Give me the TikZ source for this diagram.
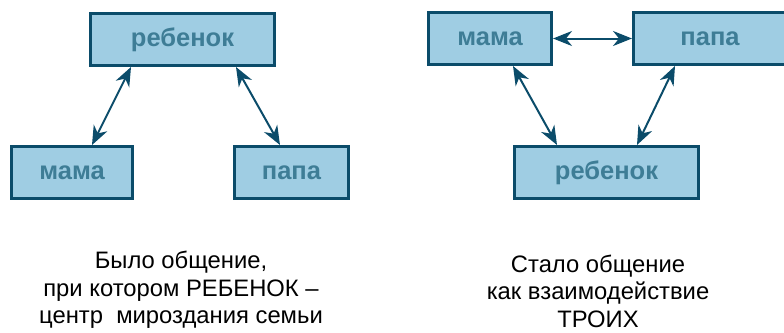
\documentclass[tikz,border=0pt]{standalone}
\usepackage{fontspec}
\setmainfont{Liberation Sans}
\usetikzlibrary{arrows.meta}
\definecolor{boxfill}{RGB}{159,205,227}
\definecolor{boxline}{RGB}{11,76,106}
\definecolor{boxtext}{RGB}{62,125,150}

\begin{document}
\begin{tikzpicture}[x=1pt,y=-1pt,
	famnode/.style={draw=boxline,
		fill=boxfill,
		line width=3pt,
		minimum height=52pt,
		inner sep=0pt,
		text=boxtext,
		font=\fontsize{25.5}{30}\selectfont\bfseries},
	link/.style={{Stealth[length=19pt,width=15pt,inset=6pt]}-{Stealth[length=19pt,width=15pt,inset=6pt]},
		line width=2pt,
		draw=boxline},
	caption/.style={align=center,
		font=\fontsize{23.8}{27.5}\selectfont}
]

\useasboundingbox (0,0) rectangle (784,332);

% Before: child in the middle
\node [famnode,
	minimum width=184pt
] (lchild) at (182.5,39.5) {ребенок};

\node [famnode,
	minimum width=121pt
] (lmother) at (72,172.5) {мама};

\node [famnode,
	minimum width=114pt
] (lfather) at (291.5,172.5) {папа};

% After: three together
\node [famnode,
	minimum width=123pt
] (rmother) at (490,38.5) {мама};

\node [famnode,
	minimum width=153pt
] (rfather) at (710,38.5) {папа};

\node [famnode,
	minimum width=184pt
] (rchild) at (606.5,172.5) {ребенок};

% Arrows
\draw[link] ([xshift=-51.5pt] lchild.south) -- ([xshift=20pt] lmother.north);
\draw[link] ([xshift=53.5pt] lchild.south) -- ([xshift=-11.5pt] lfather.north);

\draw[link] (rmother.east) -- (rfather.west);
\draw[link] ([xshift=23pt] rmother.south) -- ([xshift=-49.5pt] rchild.north);
\draw[link] ([xshift=-35pt] rfather.south) -- ([xshift=30.5pt] rchild.north);

% Captions
\node [caption] (before) at (181,290) {Было общение,\\при котором РЕБЕНОК –\\центр \ мироздания семьи};
\node [caption] (after) at (598,291) {Стало общение\\как взаимодействие\\ТРОИХ};

\end{tikzpicture}
\end{document}
